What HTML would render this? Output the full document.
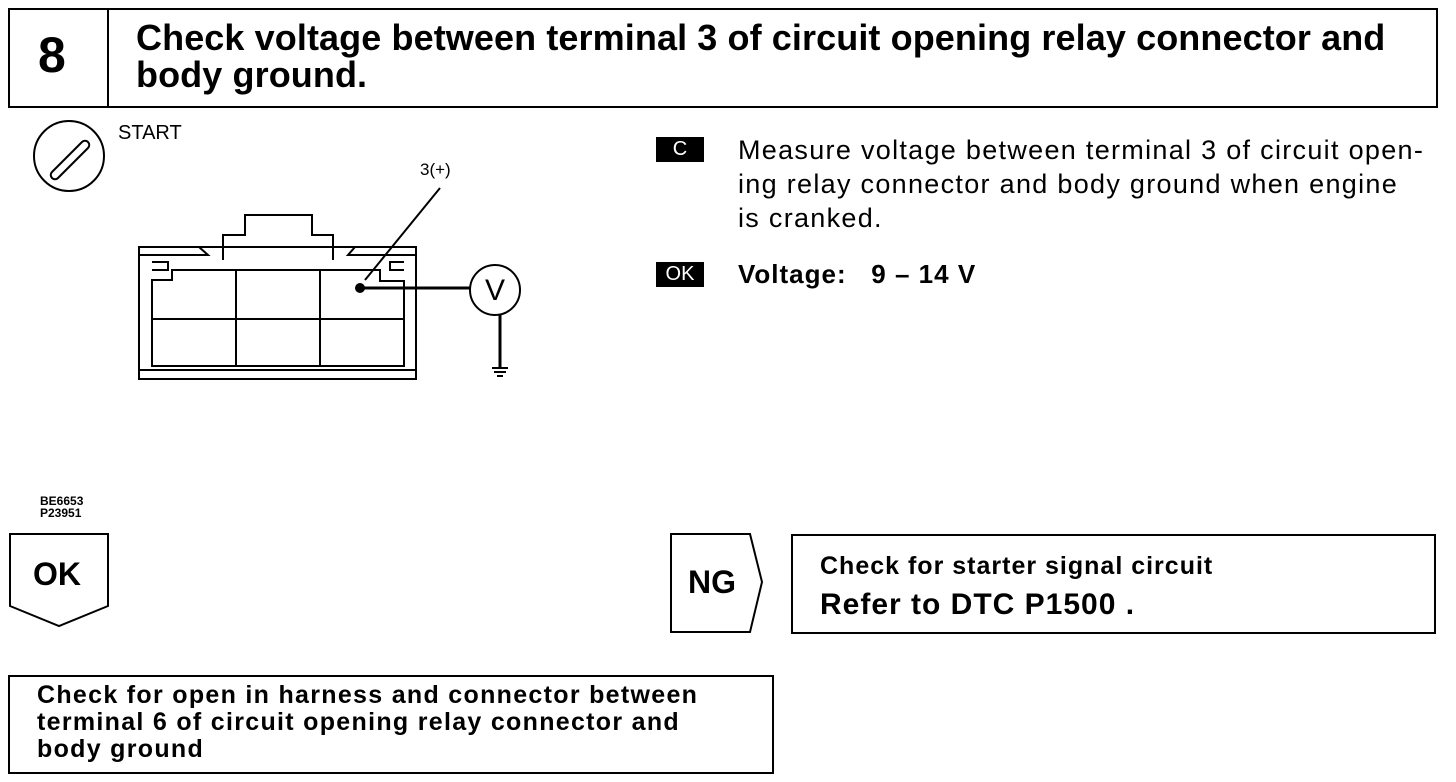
<!DOCTYPE html>
<html><head><style>
body{margin:0;width:1456px;height:782px;background:#fff;position:relative;font-family:"Liberation Sans",Arial,sans-serif;color:#000;overflow:hidden}
.a{position:absolute;white-space:nowrap}
.b{font-weight:bold}
</style></head><body>
<svg class="a" style="left:0;top:0" width="1456" height="782">
<g fill="none" stroke="#000" stroke-width="2">
<rect x="9" y="9" width="1428" height="98"/>
<line x1="108" y1="9" x2="108" y2="107"/>
<circle cx="69" cy="156" r="35"/>
<path d="M52 172 L82 142 a4 4 0 0 1 6 6 L58 178 a4 4 0 0 1 -6 -6z"/>
<rect x="139" y="247" width="277" height="132"/>
<line x1="139" y1="370" x2="416" y2="370"/>
<path d="M139 247 L199 247 L208 255 L139 255"/>
<path d="M416 247 L355 247 L348 255 L416 255"/>
<path d="M223 260 L223 235 L245 235 L245 215 L312 215 L312 235 L333 235 L333 260"/>
<path d="M152 262 L168 262 L168 270 L152 270"/>
<path d="M404 262 L390 262 L390 270 L404 270"/>
<path d="M152 280 L172 280 L172 270 L380 270 L380 281 L404 281 L404 366 L152 366 Z"/>
<line x1="236" y1="270" x2="236" y2="366"/>
<line x1="320" y1="270" x2="320" y2="366"/>
<line x1="152" y1="319" x2="404" y2="319"/>
<line x1="440" y1="188" x2="365" y2="280"/>
<line x1="360" y1="288" x2="471" y2="288" stroke-width="3"/>
<circle cx="495" cy="290" r="25"/>
<line x1="500" y1="315" x2="500" y2="368" stroke-width="3"/>
<line x1="492" y1="368" x2="508" y2="368"/><line x1="494" y1="372" x2="506" y2="372"/><line x1="497" y1="376" x2="503" y2="376"/>
<path d="M10 534 L108 534 L108 606 L59 626 L10 606 Z"/>
<path d="M671 534 L750 534 L762 582 L750 632 L671 632 Z"/>
<rect x="792" y="535" width="643" height="98"/>
<rect x="9" y="676" width="764" height="97"/>
</g>
<circle cx="360" cy="288" r="5" fill="#000"/>
<text x="495" y="300" font-family="Liberation Sans" font-size="30" text-anchor="middle">V</text>
<rect x="656" y="137" width="48" height="25" fill="#000"/>
<rect x="656" y="262" width="48" height="25" fill="#000"/>
</svg>
<div class="a b" style="left:38px;top:26px;font-size:50px">8</div>
<div class="a b" style="left:136px;top:19px;font-size:36px;line-height:37px;letter-spacing:0.1px">Check voltage between terminal 3 of circuit opening relay connector and<br>body ground.</div>
<div class="a" style="left:118px;top:122px;font-size:20px">START</div>
<div class="a" style="left:420px;top:160px;font-size:17px">3(+)</div>
<div class="a" style="left:656px;top:137px;width:48px;text-align:center;color:#fff;font-size:20px;line-height:25px">C</div>
<div class="a" style="left:656px;top:262px;width:48px;text-align:center;color:#fff;font-size:20px;line-height:25px">OK</div>
<div class="a" style="left:738px;top:133px;font-size:27px;line-height:34px;letter-spacing:1.3px">Measure voltage between terminal 3 of circuit open-<br>ing relay connector and body ground when engine<br>is cranked.</div>
<div class="a b" style="left:738px;top:259px;font-size:26px;letter-spacing:1px">Voltage:&nbsp;&nbsp;&nbsp;9 – 14 V</div>
<div class="a b" style="left:40px;top:495px;font-size:12px;line-height:12px">BE6653<br>P23951</div>
<div class="a b" style="left:33px;top:556px;font-size:32px">OK</div>
<div class="a b" style="left:688px;top:564px;font-size:32px">NG</div>
<div class="a b" style="left:820px;top:552px;font-size:25px;letter-spacing:1px">Check for starter signal circuit</div>
<div class="a b" style="left:820px;top:588px;font-size:30px;letter-spacing:1px">Refer to DTC P1500 .</div>
<div class="a b" style="left:37px;top:682px;font-size:25px;line-height:27px;letter-spacing:1.3px">Check for open in harness and connector between<br>terminal 6 of circuit opening relay connector and<br>body ground</div>
</body></html>
